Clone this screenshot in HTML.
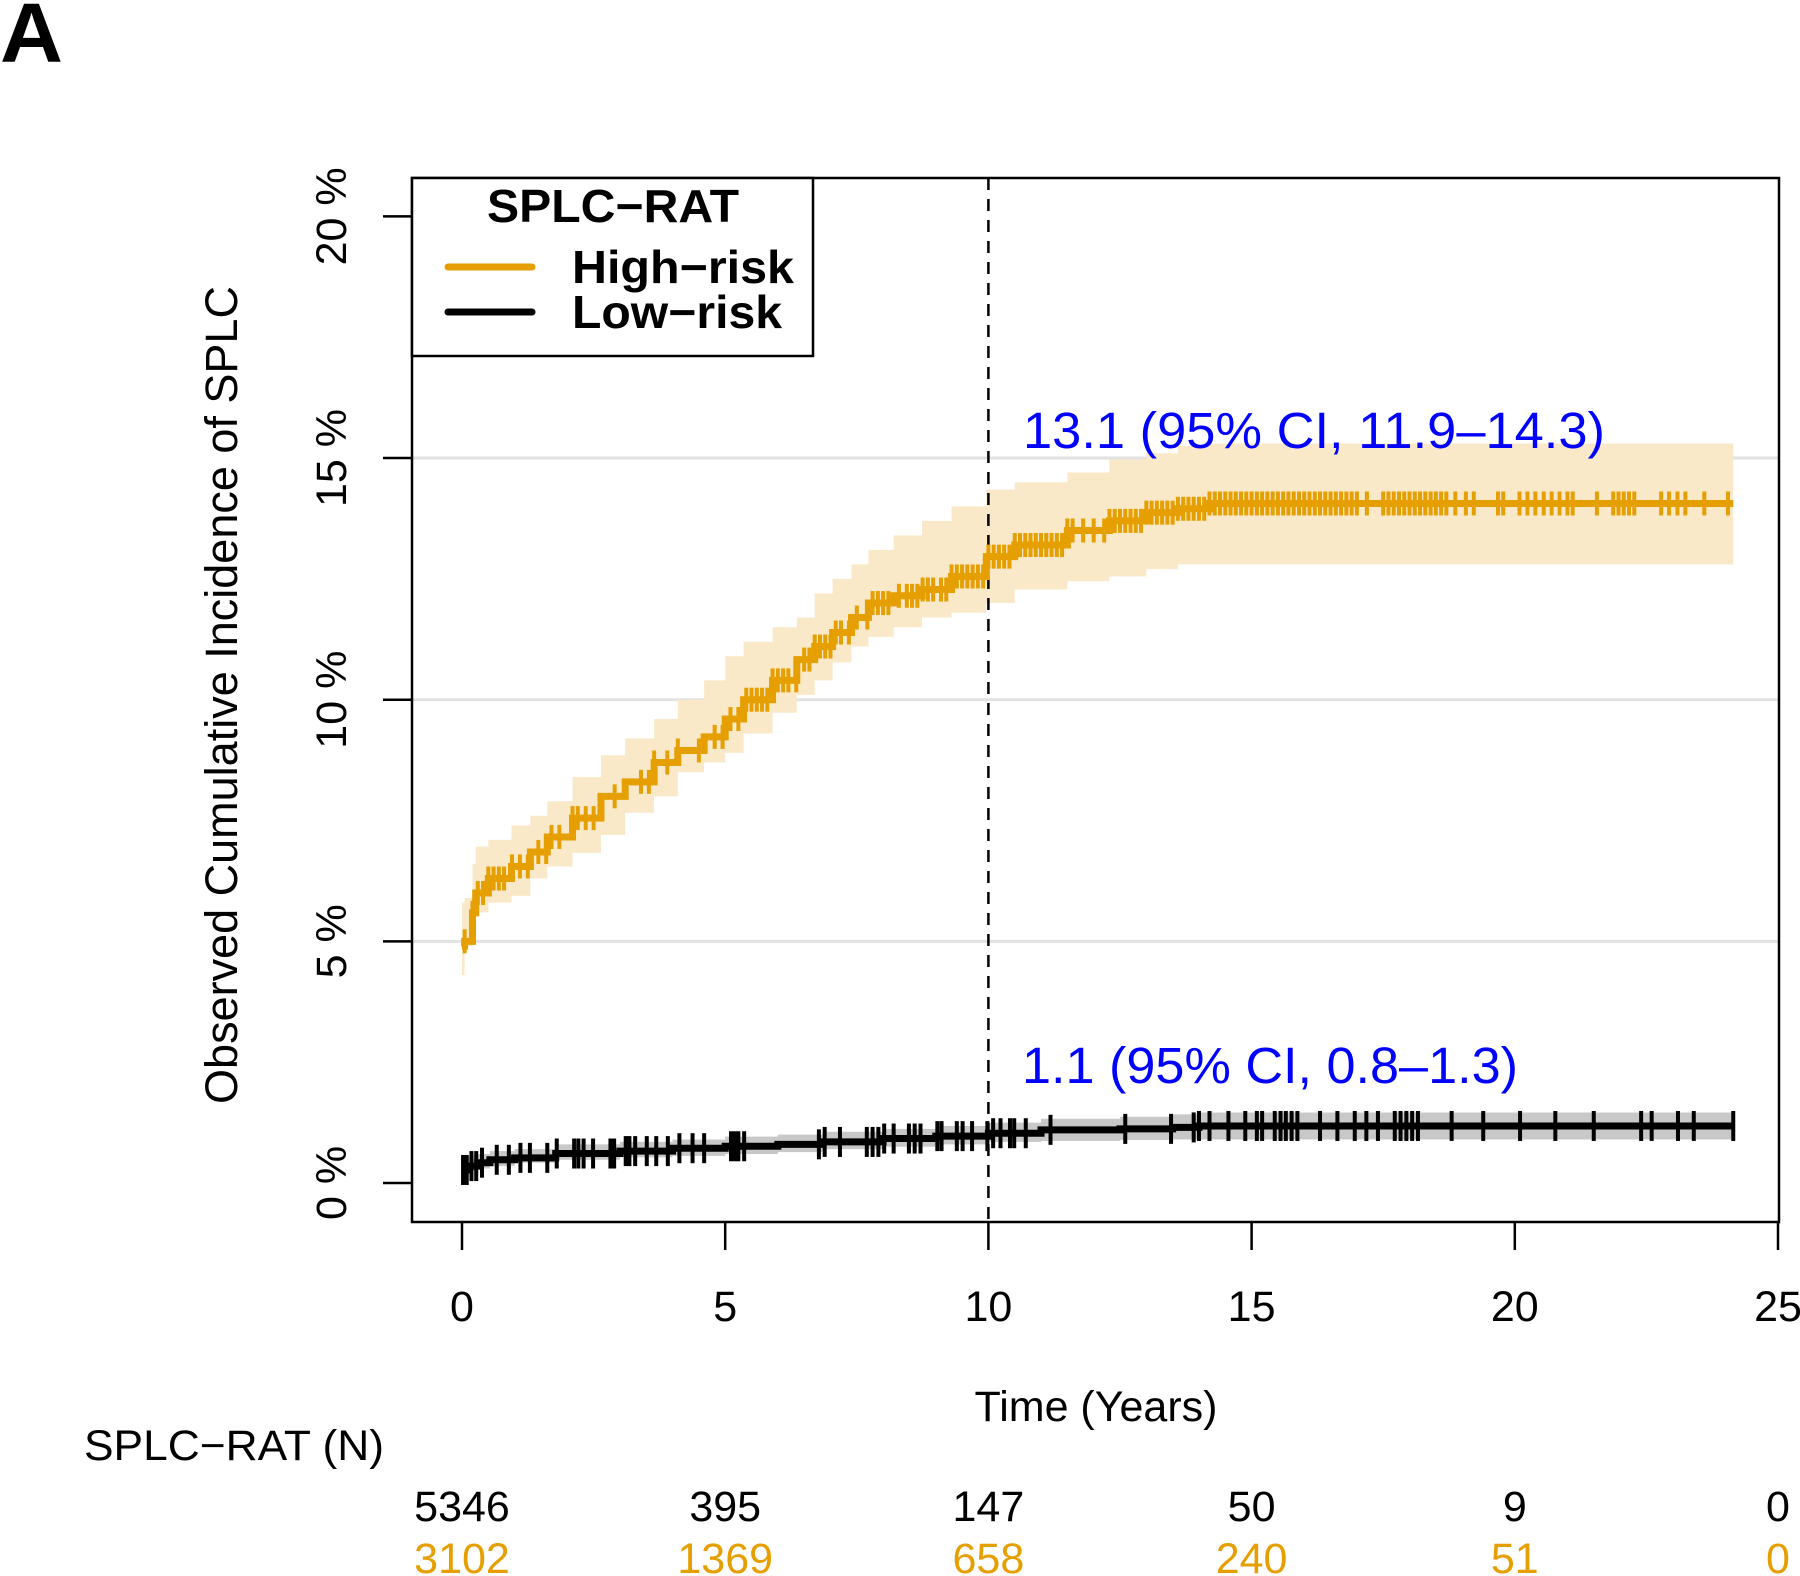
<!DOCTYPE html>
<html><head><meta charset="utf-8"><style>
html,body{margin:0;padding:0;background:#fff;}
svg{display:block;font-family:"Liberation Sans",sans-serif;}
</style></head><body>
<svg id="chart" width="1800" height="1576" viewBox="0 0 1800 1576" xmlns="http://www.w3.org/2000/svg">
<text x="0" y="62" font-size="84" font-weight="bold" textLength="63" lengthAdjust="spacingAndGlyphs">A</text>
<g id="plot"></g>
</svg>
<script>
const xTicks=[0,5,10,15,20,25];
const yTicks=[0,5,10,15,20];
const yTickLabels=["0 %","5 %","10 %","15 %","20 %"];
const highTimes=[0,0.05,0.2,0.26,0.5,0.94,1.3,1.62,2.1,2.64,3.1,3.65,4.1,4.6,5.0,5.35,5.9,6.36,6.7,7.04,7.4,7.72,8.2,8.74,9.3,9.96,10.5,11.5,12.3,13.0,13.6,14.2,24.15];
const highEst=[4.9,5.0,5.59,6.0,6.3,6.55,6.85,7.16,7.55,8.0,8.3,8.7,8.95,9.23,9.6,10.0,10.4,10.83,11.1,11.39,11.7,12.0,12.15,12.28,12.55,12.96,13.2,13.5,13.7,13.87,13.95,14.06,14.06];
const highLow=[4.1,4.3,4.9,5.38,5.6,5.8,5.94,6.3,6.55,6.83,7.2,7.66,8.0,8.5,8.7,8.9,9.3,9.73,10.1,10.4,10.77,11.1,11.3,11.5,11.7,11.8,12.0,12.28,12.45,12.55,12.7,12.8,12.8];
const highUp=[5.8,5.9,6.6,6.96,7.1,7.4,7.6,7.9,8.4,8.85,9.2,9.6,10.0,10.4,10.9,11.2,11.5,11.7,12.2,12.5,12.8,13.1,13.4,13.7,14.0,14.35,14.5,14.7,14.97,15.1,15.25,15.3,15.3];
const lowTimes=[0,0.1,0.3,0.53,1.0,1.78,3.0,4.0,5.0,6.0,6.85,8.0,9.0,10.0,11.0,12.5,13.5,14.0,24.15];
const lowEst=[0.27,0.35,0.42,0.48,0.52,0.61,0.66,0.72,0.76,0.8,0.85,0.92,0.97,1.03,1.1,1.12,1.15,1.18,1.18];
const lowLow=[0.1,0.15,0.25,0.3,0.35,0.42,0.48,0.53,0.56,0.6,0.64,0.7,0.75,0.8,0.85,0.87,0.89,0.9,0.9];
const lowUp=[0.45,0.55,0.6,0.66,0.7,0.8,0.85,0.9,0.96,1.0,1.06,1.12,1.18,1.25,1.33,1.37,1.42,1.46,1.46];
const lowCensor=[0.02,0.09,0.18,0.27,0.38,0.66,0.89,1.11,1.29,1.62,1.8,2.13,2.21,2.31,2.49,2.82,2.89,3.11,3.18,3.29,3.51,3.69,3.91,4.13,4.38,4.6,5.11,5.18,5.25,5.36,6.78,6.89,7.18,7.69,7.8,7.91,8.02,8.2,8.49,8.6,8.71,9.03,9.11,9.4,9.51,9.69,9.98,10.09,10.23,10.41,10.49,10.71,11.18,12.6,13.47,13.9,14.0,14.2,14.56,14.88,15.1,15.2,15.44,15.55,15.65,15.76,15.87,16.3,16.63,16.96,17.18,17.4,17.72,17.83,17.94,18.05,18.16,18.8,19.4,20.1,20.77,21.5,22.4,22.6,23.1,23.4,24.15];
const highCensor=[0.05,0.2,0.3,0.4,0.5,0.6,0.7,0.8,0.95,1.1,1.25,1.45,1.6,1.7,1.85,2.1,2.2,2.35,2.5,2.9,3.4,3.55,3.65,3.9,4.1,4.5,4.8,4.95,5.1,5.25,5.4,5.5,5.6,5.7,5.8,5.9,6.0,6.1,6.2,6.35,6.5,6.6,6.7,6.8,6.9,7.0,7.1,7.2,7.35,7.5,7.7,7.8,7.9,8.0,8.1,8.3,8.45,8.55,8.65,8.75,8.85,8.95,9.1,9.2,9.3,9.4,9.5,9.6,9.7,9.8,9.9,10.0,10.1,10.2,10.3,10.4,10.5,10.6,10.7,10.8,10.9,11.0,11.1,11.2,11.3,11.4,11.5,11.6,11.8,12.0,12.2,12.3,12.4,12.5,12.6,12.7,12.8,12.9,13.0,13.1,13.2,13.3,13.4,13.5,13.6,13.7,13.8,13.9,14.0,14.1,14.2,14.3,14.4,14.5,14.6,14.7,14.8,14.9,15.0,15.1,15.2,15.3,15.4,15.5,15.6,15.7,15.8,15.9,16.0,16.1,16.2,16.3,16.4,16.5,16.6,16.7,16.8,16.9,17.0,17.19,17.5,17.6,17.7,17.8,17.9,18.0,18.1,18.2,18.3,18.4,18.5,18.6,18.7,18.87,19.07,19.22,19.68,19.78,20.09,20.24,20.39,20.55,20.7,20.85,21.0,21.1,21.56,21.87,21.97,22.07,22.17,22.27,22.78,22.93,23.09,23.24,23.6,24.05];
const riskLow=[5346,395,147,50,9,0];
const riskHigh=[3102,1369,658,240,51,0];

const NS="http://www.w3.org/2000/svg";
const g=document.getElementById('plot');
const L=412,R=1779,T=178,B=1222;
function X(t){return 462+t*52.64;}
function Y(p){return 1183-p*48.33;}
function mk(tag,attrs,parent){const e=document.createElementNS(NS,tag);for(const k in attrs)e.setAttribute(k,attrs[k]);(parent||g).appendChild(e);return e;}
function stepPath(ts,vs){let d='M'+X(ts[0])+' '+Y(vs[0]);for(let i=1;i<ts.length;i++){d+=' H'+X(ts[i])+' V'+Y(vs[i]);}return d;}
function bandPath(ts,lo,up){let d='M'+X(ts[0])+' '+Y(up[0]);for(let i=1;i<ts.length;i++){d+=' H'+X(ts[i])+' V'+Y(up[i]);}
 for(let i=ts.length-1;i>0;i--){d+=' V'+Y(lo[i])+' H'+X(ts[i-1]);}d+=' V'+Y(lo[0])+' Z';return d;}
function interp(ts,vs,t){let v=vs[0];for(let i=0;i<ts.length;i++){if(ts[i]<=t)v=vs[i];}return v;}

// gridlines
yTicks.forEach(function(v){if(v===0||v===20)return;
 const e=mk('line',{x1:L,x2:R,y1:Y(v),y2:Y(v),stroke:'#e2e2e2','stroke-width':3});
 
 
});
// bands
let e;
e=mk('path',{d:bandPath(highTimes,highLow,highUp),fill:'#fae9c8'});


e=mk('path',{d:bandPath(lowTimes,lowLow,lowUp),fill:'#c8c8c8'});


// dashed line at 10
e=mk('line',{x1:X(10),x2:X(10),y1:T,y2:B,stroke:'#000','stroke-width':2.5,'stroke-dasharray':'12,9'});


// curves
e=mk('path',{d:stepPath(highTimes,highEst),fill:'none',stroke:'#E69F00','stroke-width':7});


const hc=mk('g',{stroke:'#E69F00','stroke-width':4});


highCensor.forEach(function(t){const y=Y(interp(highTimes,highEst,t));
 const m=mk('line',{x1:X(t),x2:X(t),y1:y-12,y2:y+12},hc);
 
 
});
e=mk('path',{d:stepPath(lowTimes,lowEst),fill:'none',stroke:'#000','stroke-width':7});


const lc=mk('g',{stroke:'#000','stroke-width':4});


lowCensor.forEach(function(t){const y=Y(interp(lowTimes,lowEst,t));
 const m=mk('line',{x1:X(t),x2:X(t),y1:y-15,y2:y+15},lc);
 
 
});
// frame
e=mk('rect',{x:L,y:T,width:R-L,height:B-T,fill:'none',stroke:'#000','stroke-width':2.5});


// y axis ticks
yTicks.forEach(function(v,i){
 const t=mk('line',{x1:383,x2:L,y1:Y(v),y2:Y(v),stroke:'#000','stroke-width':2.5});
 
 
 const lb=mk('text',{x:0,y:0,'font-size':43,'text-anchor':'middle',transform:'translate(346,'+Y(v)+') rotate(-90)'});
 lb.textContent=yTickLabels[i];
 
 
});
// x axis ticks
xTicks.forEach(function(v,i){
 const t=mk('line',{x1:X(v),x2:X(v),y1:B,y2:1250,stroke:'#000','stroke-width':2.5});
 
 
 const lb=mk('text',{x:X(v),y:1321,'font-size':43,'text-anchor':'middle'});
 lb.textContent=String(v);
 
 
 const a=mk('text',{x:X(v),y:1521,'font-size':43,'text-anchor':'middle',fill:'#000'});
 a.textContent=String(riskLow[i]);
 
 
 const b=mk('text',{x:X(v),y:1573,'font-size':43,'text-anchor':'middle',fill:'#E69F00'});
 b.textContent=String(riskHigh[i]);
 
 
});
</script>
<svg width="0" height="0"></svg>
<script>
(function(){
const NS="http://www.w3.org/2000/svg";
const s=document.getElementById('chart');
function t(attrs,txt,name){const e=document.createElementNS(NS,'text');for(const k in attrs)e.setAttribute(k,attrs[k]);e.textContent=txt;s.appendChild(e);
 
 
 return e;}
t({x:1096,y:1421,'font-size':43,'text-anchor':'middle'},'Time (Years)','x-axis-title');
t({x:84,y:1460,'font-size':43,textLength:300,lengthAdjust:'spacingAndGlyphs'},'SPLC\u2212RAT (N)','risk-table-title');
t({x:0,y:0,'font-size':45,'text-anchor':'middle',transform:'translate(237,695) rotate(-90)'},'Observed Cumulative Incidence of SPLC','y-axis-title');
t({x:1023,y:448,'font-size':51,fill:'#0000ff',textLength:582,lengthAdjust:'spacingAndGlyphs'},'13.1 (95% CI, 11.9\u201314.3)','high-risk-annotation');
t({x:1022,y:1083,'font-size':51,fill:'#0000ff',textLength:496,lengthAdjust:'spacingAndGlyphs'},'1.1 (95% CI, 0.8\u20131.3)','low-risk-annotation');
// legend
const lg=document.createElementNS(NS,'g');s.appendChild(lg);


const r=document.createElementNS(NS,'rect');
[['x',412],['y',178],['width',401],['height',178],['fill','#fff'],['stroke','#000'],['stroke-width',2.5]].forEach(function(a){r.setAttribute(a[0],a[1]);});


lg.appendChild(r);
function ln(y,c,name){const l=document.createElementNS(NS,'line');
 [['x1',448],['x2',532],['y1',y],['y2',y],['stroke',c],['stroke-width',7],['stroke-linecap','round']].forEach(function(a){l.setAttribute(a[0],a[1]);});
 
 
 lg.appendChild(l);}
ln(267,'#E69F00','legend-high-risk-swatch');
ln(312,'#000','legend-low-risk-swatch');
function lt(x,y,txt,w,name,anchor){const e=document.createElementNS(NS,'text');
 [['x',x],['y',y],['font-size',46],['font-weight','bold'],['text-anchor',anchor||'start'],['textLength',w],['lengthAdjust','spacingAndGlyphs']].forEach(function(a){e.setAttribute(a[0],a[1]);});
 e.textContent=txt;
 
 
 lg.appendChild(e);}
lt(613,222,'SPLC\u2212RAT',252,'legend-title','middle');
lt(572,283,'High\u2212risk',222,'legend-high-risk-label');
lt(572,328,'Low\u2212risk',210,'legend-low-risk-label');
})();
</script>
</body></html>
